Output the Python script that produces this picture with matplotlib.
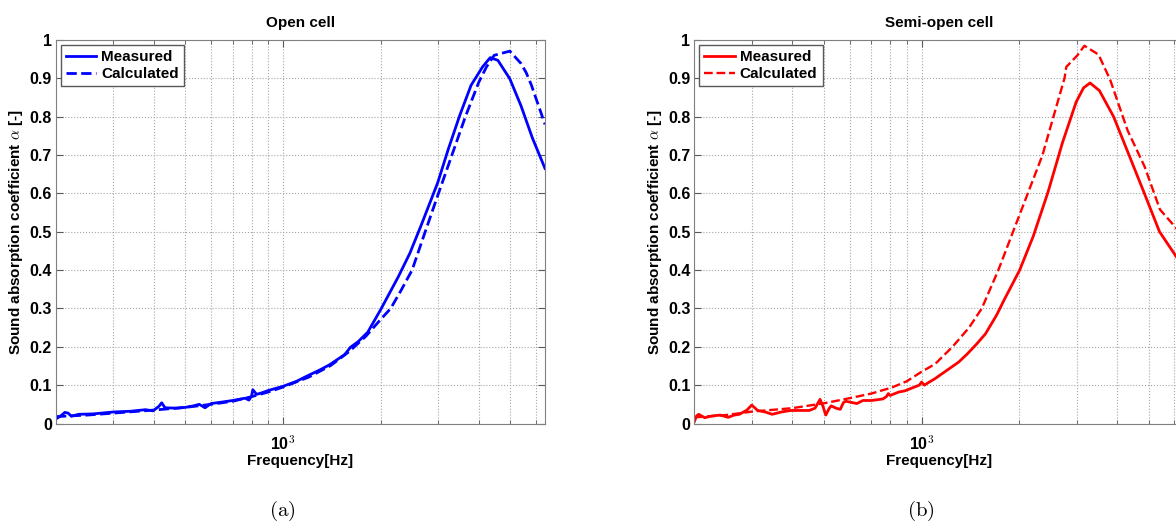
import numpy as np
import matplotlib.pyplot as plt
from matplotlib.ticker import FixedLocator, NullFormatter

plt.rcParams['font.family'] = ['Liberation Sans', 'DejaVu Sans']
plt.rcParams['font.weight'] = 'bold'
plt.rcParams['mathtext.fontset'] = 'cm'

# Open cell sample
freq_a_meas = [200, 207, 213, 218, 223, 235, 260, 300, 340, 377, 398, 415, 423, 433, 470, 500,
               530, 552, 575, 600, 650, 700, 764, 785, 800, 807, 829, 860, 900, 1000, 1100,
               1180, 1300, 1389, 1500, 1548, 1613, 1700, 1822, 1900, 2000, 2264, 2456, 2664,
               2992, 3224, 3496, 3790, 4112, 4340, 4583, 4987, 5396, 5850, 6400]
alpha_a_meas = [0.012, 0.020, 0.029, 0.027, 0.019, 0.024, 0.025, 0.030, 0.032, 0.036, 0.033,
                0.045, 0.054, 0.041, 0.040, 0.042, 0.046, 0.050, 0.041, 0.052, 0.056, 0.060,
                0.066, 0.061, 0.072, 0.088, 0.076, 0.080, 0.086, 0.097, 0.110, 0.123, 0.140,
                0.153, 0.172, 0.180, 0.199, 0.213, 0.238, 0.265, 0.298, 0.383, 0.444, 0.518,
                0.628, 0.715, 0.803, 0.882, 0.930, 0.954, 0.947, 0.899, 0.829, 0.745, 0.665]

freq_a_calc = [200, 250, 300, 400, 500, 600, 700, 800, 900, 1000, 1200, 1400, 1600, 1800, 2000,
               2144, 2300, 2495, 2738, 3008, 3309, 3640, 4003, 4228, 4462, 4987, 5396, 5600,
               5808, 6400]
alpha_a_calc = [0.018, 0.022, 0.027, 0.035, 0.042, 0.050, 0.058, 0.070, 0.082, 0.095, 0.121,
                0.151, 0.188, 0.228, 0.272, 0.300, 0.345, 0.400, 0.500, 0.600, 0.700, 0.800,
                0.890, 0.930, 0.960, 0.971, 0.939, 0.915, 0.883, 0.780]

# Semi-open cell sample
freq_b_meas = [200, 203, 206, 215, 224, 240, 254, 265, 275, 290, 300, 313, 330, 347, 370, 396,
               451, 470, 487, 497, 507, 520, 527, 545, 562, 575, 585, 632, 660, 702, 760, 779,
               790, 800, 850, 887, 950, 984, 1000, 1020, 1037, 1100, 1212, 1300, 1381, 1480,
               1573, 1700, 1792, 2004, 2206, 2447, 2716, 2990, 3150, 3300, 3527, 3900, 4350,
               4850, 5400, 6126, 6400]
alpha_b_meas = [0.006, 0.020, 0.024, 0.015, 0.019, 0.022, 0.016, 0.022, 0.024, 0.035, 0.048,
                0.034, 0.030, 0.024, 0.030, 0.034, 0.034, 0.040, 0.063, 0.045, 0.022, 0.040,
                0.046, 0.040, 0.037, 0.055, 0.058, 0.052, 0.060, 0.060, 0.064, 0.070, 0.078,
                0.073, 0.082, 0.085, 0.095, 0.100, 0.108, 0.100, 0.104, 0.117, 0.142, 0.160,
                0.181, 0.208, 0.234, 0.282, 0.321, 0.400, 0.488, 0.602, 0.733, 0.838, 0.875,
                0.888, 0.868, 0.800, 0.700, 0.600, 0.500, 0.431, 0.410]

freq_b_calc = [200, 250, 300, 400, 503, 600, 700, 811, 900, 1000, 1100, 1245, 1400, 1532, 1723,
               1912, 2123, 2356, 2546, 2753, 2790, 3017, 3170, 3504, 3807, 4302, 4857, 5417,
               6126, 6400]
alpha_b_calc = [0.016, 0.022, 0.031, 0.040, 0.053, 0.066, 0.078, 0.094, 0.110, 0.135, 0.155,
                0.200, 0.250, 0.300, 0.400, 0.500, 0.600, 0.700, 0.800, 0.900, 0.930, 0.960,
                0.985, 0.962, 0.896, 0.765, 0.670, 0.558, 0.506, 0.490]

y_ticks = [0, 0.1, 0.2, 0.3, 0.4, 0.5, 0.6, 0.7, 0.8, 0.9, 1]
y_tick_labels = ['0', '0.1', '0.2', '0.3', '0.4', '0.5', '0.6', '0.7', '0.8', '0.9', '1']
minor_freqs = [200, 300, 400, 500, 600, 700, 800, 900, 2000, 3000, 4000, 5000, 6000]

W, H = 1176, 529
fig = plt.figure(figsize=(W / 100, H / 100), dpi=100)
ax_a = fig.add_axes([56 / W, 105.5 / H, 489 / W, 383.5 / H])
ax_b = fig.add_axes([694.5 / W, 105.5 / H, 489 / W, 383.5 / H])


def setup(ax, title):
    ax.set_xscale('log')
    ax.set_xlim(200, 6400)
    ax.set_ylim(0, 1)
    ax.xaxis.set_major_locator(FixedLocator([1000]))
    ax.set_xticklabels([r'10$^{\mathsf{3}}$'])
    ax.xaxis.set_minor_locator(FixedLocator(minor_freqs))
    ax.xaxis.set_minor_formatter(NullFormatter())
    ax.set_yticks(y_ticks)
    ax.set_yticklabels(y_tick_labels)
    ax.tick_params(which='both', direction='in', top=True, right=True,
                   color='0.35', labelsize=11.5, pad=3)
    ax.tick_params(axis='x', which='major', pad=8)
    ax.tick_params(which='major', length=5)
    ax.tick_params(which='minor', length=3)
    ax.grid(True, which='both', axis='x', linestyle=':', color='0.65', lw=0.8)
    ax.grid(True, which='major', axis='y', linestyle=':', color='0.65', lw=0.8)
    for s in ax.spines.values():
        s.set_color('0.5')
    ax.set_title(title, fontsize=11, fontweight='bold', pad=9)
    ax.set_xlabel('Frequency[Hz]', fontsize=11, fontweight='bold', labelpad=1)
    ax.set_ylabel(r'Sound absorption coefficient $\alpha$ [-]', fontsize=11,
                  fontweight='bold', labelpad=3)
    ax.legend(loc='upper left', fancybox=False, edgecolor='0.35', framealpha=1,
              handlelength=2.0, handletextpad=0.3, labelspacing=0.2, borderpad=0.35,
              borderaxespad=0.3, prop={'weight': 'bold', 'size': 11})


ax_a.plot(freq_a_meas, alpha_a_meas, color='#0000ff', lw=2, label='Measured')
ax_a.plot(freq_a_calc, alpha_a_calc, color='#0000ff', lw=2, ls='--', label='Calculated')
setup(ax_a, 'Open cell')

ax_b.plot(freq_b_meas, alpha_b_meas, color='#ff0000', lw=2, label='Measured')
ax_b.plot(freq_b_calc, alpha_b_calc, color='#ff0000', lw=1.7, ls='--', label='Calculated')
setup(ax_b, 'Semi-open cell')

fig.text(282 / W, 1 - 511 / H, r'$\mathrm{(a)}$', fontsize=15, ha='center', va='center')
fig.text(921 / W, 1 - 511 / H, r'$\mathrm{(b)}$', fontsize=15, ha='center', va='center')

fig.savefig('out.png', dpi=100)
